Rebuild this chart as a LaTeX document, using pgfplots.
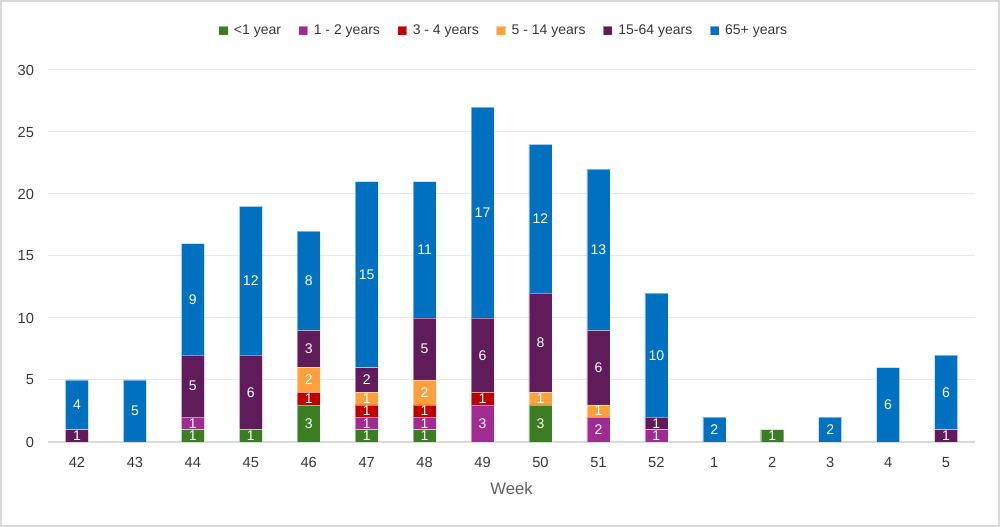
\documentclass[border=0pt]{standalone}
\usepackage{pgfplots}
\pgfplotsset{compat=1.18}
\usepackage{pgfplotstable}
\usepackage{fontspec}
\setmainfont{Liberation Sans}

\definecolor{cgreen}{HTML}{3B7D23}
\definecolor{cmagenta}{HTML}{A02B93}
\definecolor{cred}{HTML}{C00000}
\definecolor{corange}{HTML}{FFA03C}
\definecolor{cplum}{HTML}{5F1B5A}
\definecolor{cblue}{HTML}{0070C0}
\definecolor{txtgray}{HTML}{383838}
\definecolor{gridgray}{HTML}{E8E8E8}
\definecolor{axisgray}{HTML}{D9D9D9}

% weeks 42..52, 1..5 plotted at 0..15
\pgfplotstableread{
wk lt1 a12 a34 a514 a1564 a65
0  0 0 0 0 1 4
1  0 0 0 0 0 5
2  1 1 0 0 5 9
3  1 0 0 0 6 12
4  3 0 1 2 3 8
5  1 1 1 1 2 15
6  1 1 1 2 5 11
7  0 3 1 0 6 17
8  3 0 0 1 8 12
9  0 2 0 1 6 13
10 0 1 0 0 1 10
11 0 0 0 0 0 2
12 1 0 0 0 0 0
13 0 0 0 0 0 2
14 0 0 0 0 0 6
15 0 0 0 0 1 6
}\agedata

\begin{document}
\begin{tikzpicture}
\useasboundingbox (0pt,0pt) rectangle (750pt,395.25pt);
\draw[axisgray, line width=1.2pt] (0.75pt,0.75pt) rectangle (749.25pt,394.5pt);
\begin{axis}[
  at={(36pt,63.75pt)}, anchor=south west,
  scale only axis, width=695.25pt, height=279pt,
  ybar stacked, bar width=17.25pt,
  xmin=-0.5, xmax=15.5, ymin=0, ymax=30,
  xtick={0,...,15},
  xticklabels={42,43,44,45,46,47,48,49,50,51,52,1,2,3,4,5},
  ytick={0,5,...,30},
  ymajorgrids,
  major grid style={draw=gridgray, line width=0.75pt},
  axis x line*=bottom, axis y line*=left,
  y axis line style={draw=none},
  x axis line style={draw=axisgray, line width=0.9pt},
  tick style={draw=none},
  /pgf/number format/assume math mode=true,
  ticklabel style={font=\fontsize{11}{13}\selectfont, text=txtgray},
  yticklabel style={xshift=-7pt},
  xticklabel style={yshift=-8pt},
  xlabel={Week},
  xlabel style={font=\fontsize{12.5}{14}\selectfont, text=txtgray!80, yshift=-4pt},
  legend columns=6,
  legend style={at={(0.492,1.105)}, anchor=center, draw=none, fill=none,
    font=\fontsize{10.5}{12}\selectfont, text=txtgray,
    /tikz/every even column/.append style={column sep=11pt},
    /tikz/every odd column/.append style={column sep=2.5pt}},
  legend image code/.code={\fill[#1] (0pt,-3.4pt) rectangle (6.8pt,3.4pt);},
  every axis plot/.append style={draw=white, draw opacity=0.45, line width=0.3pt},
  nodes near coords={\pgfmathfloatifflags{\pgfplotspointmeta}{0}{}{\pgfmathprintnumber{\pgfplotspointmeta}}},
  every node near coord/.append style={font=\fontsize{10.5}{12}\selectfont, text=white,
    anchor=center},
]
\addplot[fill=cgreen] table[x=wk, y=lt1] {\agedata};
\addlegendentry{<1 year}
\addplot[fill=cmagenta] table[x=wk, y=a12] {\agedata};
\addlegendentry{1 - 2 years}
\addplot[fill=cred] table[x=wk, y=a34] {\agedata};
\addlegendentry{3 - 4 years}
\addplot[fill=corange] table[x=wk, y=a514] {\agedata};
\addlegendentry{5 - 14 years}
\addplot[fill=cplum] table[x=wk, y=a1564] {\agedata};
\addlegendentry{15-64 years}
\addplot[fill=cblue] table[x=wk, y=a65] {\agedata};
\addlegendentry{65+ years}
\end{axis}
\end{tikzpicture}
\end{document}
